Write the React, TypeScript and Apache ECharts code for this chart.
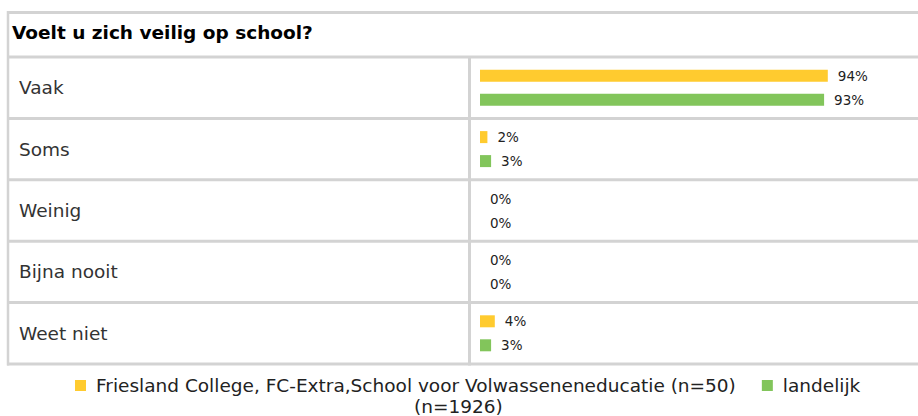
import React, { useEffect, useRef } from "react";
import * as echarts from "echarts";

const title = "Voelt u zich veilig op school?";
const categories = ["Vaak", "Soms", "Weinig", "Bijna nooit", "Weet niet"];
const seriesNames = [
  "Friesland College, FC-Extra,School voor Volwasseneneducatie (n=50)",
  "landelijk (n=1926)",
];
const legendLabels = [
  "Friesland College, FC-Extra,School voor Volwasseneneducatie (n=50)",
  "landelijk",
];
const legendWrapLine = "(n=1926)";
const schoolValues = [94, 2, 0, 0, 4];
const landelijkValues = [93, 3, 0, 0, 3];

const W = 918;
const H = 416;
const GRID_LEFT = 480;
const GRID_RIGHT = 68;
const GRID_TOP = 57;
const GRID_BOTTOM_Y = 364;
const FONT = "DejaVu Sans, Verdana, sans-serif";
const LINE = "#d3d3d3";

export default function App() {
  const ref = useRef<HTMLDivElement>(null);
  useEffect(() => {
    if (!ref.current) return;
    const chart = echarts.init(ref.current, undefined, { renderer: "svg" });
    const rowH = (GRID_BOTTOM_Y - GRID_TOP) / categories.length;
    const gfx: any[] = [];
    const hy = [12.5, GRID_TOP];
    for (let i = 1; i <= categories.length; i++) hy.push(GRID_TOP + i * rowH);
    hy.forEach((y) =>
      gfx.push({
        type: "line",
        shape: { x1: 7, y1: y, x2: W, y2: y },
        style: { stroke: LINE, lineWidth: 3 },
        silent: true,
      })
    );
    gfx.push({
      type: "line",
      shape: { x1: 8, y1: 11, x2: 8, y2: GRID_BOTTOM_Y + 1.5 },
      style: { stroke: LINE, lineWidth: 2.5 },
      silent: true,
    });
    gfx.push({
      type: "line",
      shape: { x1: 469.5, y1: GRID_TOP, x2: 469.5, y2: GRID_BOTTOM_Y + 1.5 },
      style: { stroke: LINE, lineWidth: 3 },
      silent: true,
    });
    gfx.push({
      type: "text",
      x: 12,
      y: 32,
      style: {
        text: title,
        font: `bold 18.5px ${FONT}`,
        fill: "#000",
        textVerticalAlign: "middle",
      },
    });
    gfx.push({
      type: "text",
      x: 414,
      y: 406.5,
      style: {
        text: legendWrapLine,
        font: `18.5px ${FONT}`,
        fill: "#222",
        textVerticalAlign: "middle",
      },
    });

    const labelCfg = {
      show: true,
      position: "right",
      distance: 10,
      formatter: "{c}%",
      fontSize: 13.5,
      fontFamily: FONT,
      color: "#222",
    };

    chart.setOption({
      animation: false,
      grid: {
        left: GRID_LEFT,
        right: GRID_RIGHT,
        top: GRID_TOP,
        bottom: H - GRID_BOTTOM_Y,
        containLabel: false,
      },
      xAxis: {
        type: "value",
        min: 0,
        max: 100,
        show: false,
      },
      yAxis: {
        type: "category",
        data: categories,
        inverse: true,
        axisLine: { show: false },
        axisTick: { show: false },
        splitLine: { show: false },
        axisLabel: {
          align: "left",
          margin: GRID_LEFT - 19,
          fontSize: 18.5,
          fontFamily: FONT,
          color: "#333",
        },
      },
      legend: {
        left: 70,
        top: 371,
        itemWidth: 11,
        itemHeight: 11,
        itemGap: 26,
        icon: "rect",
        textStyle: {
          fontSize: 18.5,
          fontFamily: FONT,
          color: "#222",
          padding: [0, 0, 0, 5],
        },
        formatter: (name: string) => legendLabels[seriesNames.indexOf(name)] ?? name,
      },
      graphic: gfx,
      series: [
        {
          name: seriesNames[0],
          type: "bar",
          data: schoolValues,
          barWidth: 12,
          barGap: "100%",
          itemStyle: { color: "#ffcb2f" },
          label: labelCfg,
        },
        {
          name: seriesNames[1],
          type: "bar",
          data: landelijkValues,
          barWidth: 12,
          barGap: "100%",
          itemStyle: { color: "#82c55b" },
          label: labelCfg,
        },
      ],
    });
    return () => chart.dispose();
  }, []);
  return (
    <div
      ref={ref}
      style={{ position: "absolute", left: 0, top: 0, width: W, height: H }}
    />
  );
}
